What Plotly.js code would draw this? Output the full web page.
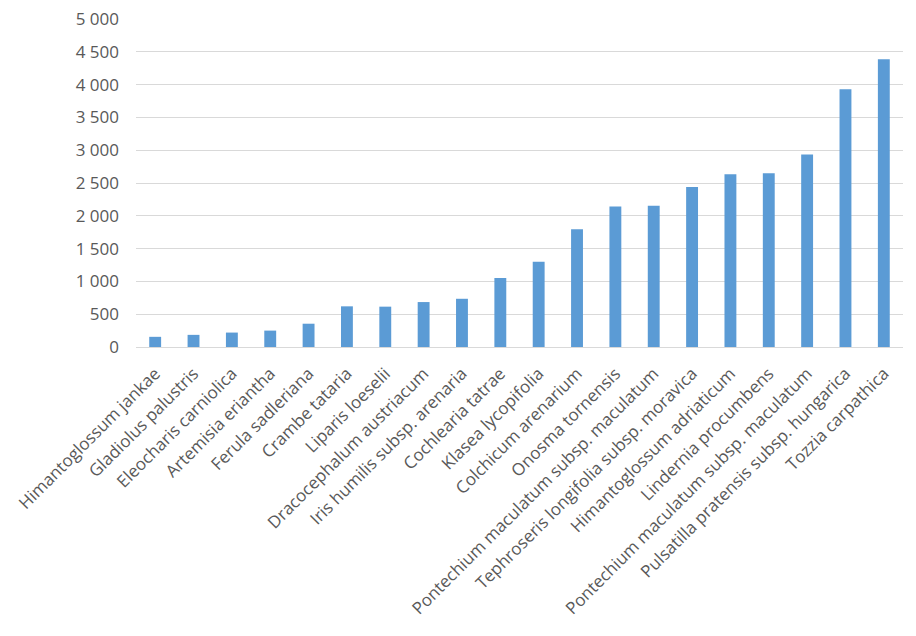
<!DOCTYPE html>
<html>
<head>
<meta charset="utf-8">
<script src="https://cdn.plot.ly/plotly-3.0.1.min.js"></script>
<style>
  html, body { margin: 0; padding: 0; background: #fff; }
  #chart { width: 916px; height: 636px; }
</style>
</head>
<body>
<div id="chart"></div>
<script>
var species = [
  'Himantoglossum jankae',
  'Gladiolus palustris',
  'Eleocharis carniolica',
  'Artemisia eriantha',
  'Ferula sadleriana',
  'Crambe tataria',
  'Liparis loeselii',
  'Dracocephalum austriacum',
  'Iris humilis subsp. arenaria',
  'Cochlearia tatrae',
  'Klasea lycopifolia',
  'Colchicum arenarium',
  'Onosma tornensis',
  'Pontechium maculatum subsp. maculatum',
  'Tephroseris longifolia subsp. moravica',
  'Himantoglossum adriaticum',
  'Lindernia procumbens',
  'Pontechium maculatum subsp. maculatum',
  'Pulsatilla pratensis subsp. hungarica',
  'Tozzia carpathica'
];
var counts = [155, 185, 220, 250, 355, 620, 615, 685, 735, 1050,
              1300, 1795, 2140, 2155, 2440, 2635, 2650, 2935, 3930, 4385];

// the same name appears twice, so place bars by position and label them
var positions = [];
for (var i = 0; i < species.length; i++) {
  positions.push(i);
}

var bars = {
  type: 'bar',
  x: positions,
  y: counts,
  width: 0.31,
  marker: { color: '#5B9BD5' },
  hoverinfo: 'text+y',
  text: species,
  textposition: 'none'
};

var layout = {
  width: 916,
  height: 636,
  margin: { l: 136, r: 13, t: 19, b: 288.5 },
  paper_bgcolor: '#ffffff',
  plot_bgcolor: '#ffffff',
  separators: '. ',
  font: { family: 'Open Sans, sans-serif', size: 17, color: '#595959' },
  showlegend: false,
  xaxis: {
    range: [-0.5, species.length - 0.5],
    tickmode: 'array',
    tickvals: positions,
    ticktext: species,
    tickangle: -45,
    showgrid: false,
    zeroline: false,
    showline: true,
    linecolor: '#d9d9d9',
    linewidth: 1,
    ticks: '',
    ticklabelstandoff: 9,
    fixedrange: true
  },
  yaxis: {
    range: [0, 5000],
    dtick: 500,
    tick0: 0,
    tickformat: ',d',
    showgrid: true,
    gridcolor: '#d9d9d9',
    gridwidth: 1,
    zeroline: false,
    showline: false,
    ticks: '',
    ticklabelstandoff: 16,
    fixedrange: true
  }
};

Plotly.newPlot('chart', [bars], layout, { displayModeBar: false, staticPlot: true });
</script>
</body>
</html>
